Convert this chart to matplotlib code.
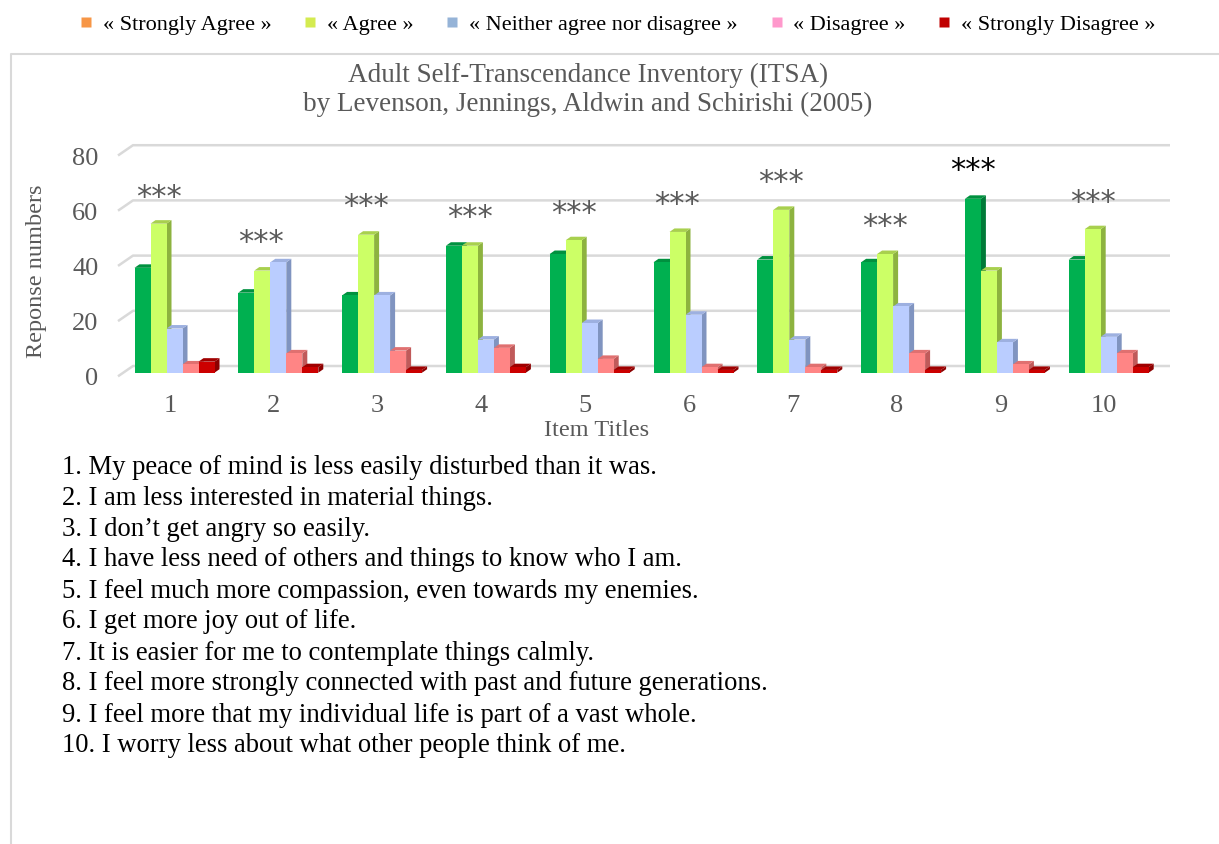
import matplotlib.pyplot as plt
from matplotlib.patches import Polygon
from matplotlib.lines import Line2D

# data (115 respondents per item)
items = ['1', '2', '3', '4', '5', '6', '7', '8', '9', '10']
strongly_agree = [38, 29, 28, 46, 43, 40, 41, 40, 63, 41]
agree = [54, 37, 50, 46, 48, 51, 59, 43, 37, 52]
neither = [16, 40, 28, 12, 18, 21, 12, 24, 11, 13]
disagree = [3, 7, 8, 9, 5, 2, 2, 7, 3, 7]
strongly_disagree = [4, 2, 1, 2, 1, 1, 1, 1, 1, 2]

legend_labels = ['« Strongly Agree »', '« Agree »', '« Neither agree nor disagree »',
                 '« Disagree »', '« Strongly Disagree »']
legend_colors = ['#F79646', '#D4EB50', '#95B3D7', '#FF99CC', '#C00000']

# significance marks: text, height, horizontal shift from the item centre
stars = ['***'] * 10
star_y = [65.6, 49.3, 62.3, 58.3, 59.8, 62.8, 71.0, 55.0, 75.2, 63.7]
star_dx = [-0.11, -0.12, -0.11, -0.11, -0.11, -0.12, -0.11, -0.11, -0.26, -0.11]

statements = [
    '1. My peace of mind is less easily disturbed than it was.',
    '2. I am less interested in material things.',
    '3. I don\u2019t get angry so easily.',
    '4. I have less need of others and things to know who I am.',
    '5. I feel much more compassion, even towards my enemies.',
    '6. I get more joy out of life.',
    '7. It is easier for me to contemplate things calmly.',
    '8. I feel more strongly connected with past and future generations.',
    '9. I feel more that my individual life is part of a vast whole.',
    '10. I worry less about what other people think of me.',
]

series = [strongly_agree, agree, neither, disagree, strongly_disagree]
front_cols = ['#00B050', '#CCFF66', '#BACDFF', '#FF8585', '#CC0000']
side_cols = ['#007A38', '#8DB33F', '#8094C0', '#C05A5A', '#8B0000']
top_cols = ['#00913F', '#A8D04E', '#9DB0E0', '#E07070', '#A00000']

plt.rcParams['font.family'] = ['Liberation Serif', 'DejaVu Serif']
grey = '#595959'

W, H = 1219, 844
fig = plt.figure(figsize=(W / 100, H / 100), dpi=100)


def fx(px):
    return px / W


def fy(py):
    return 1 - py / H


# pixel scale of the plot area
PX_X = 103.8   # px per item
PX_Y = 2.76    # px per response
y0_px = 372.7
left_px, right_px, top_px, bot_px = 118, 1170, 140, 380

ax = fig.add_axes([fx(left_px), fy(bot_px), (right_px - left_px) / W, (bot_px - top_px) / H])
xlo = 1 - (170 - left_px) / PX_X
xhi = 10 + (right_px - 1104.2) / PX_X
ax.set_xlim(xlo, xhi)
ax.set_ylim((y0_px - bot_px) / PX_Y, (y0_px - top_px) / PX_Y)
for s in ax.spines.values():
    s.set_visible(False)

# back wall gridlines with the perspective stub on the left
back_x = 1 - (170 - 133) / PX_X
for v in range(0, 81, 20):
    yb = v + 6.7 / PX_Y
    yf = yb - 10.3 / PX_Y
    ax.plot([xlo, back_x, xhi], [yf, yb, yb], color='#D9D9D9', lw=1.8,
            zorder=0, clip_on=False, solid_capstyle='butt')

# bars with a fake 3d side and top
bw = 16 / PX_X
ddx = 5 / PX_X
ddy = 3.5 / PX_Y
xs = list(range(1, len(items) + 1))
for i, x in enumerate(xs):
    for k, vals in enumerate(series):
        h = vals[i]
        xl = x + (-35.5 + 16 * k) / PX_X
        xr = xl + bw
        z = 2 + k
        ax.add_patch(Polygon([(xr, 0), (xr + ddx, ddy), (xr + ddx, h + ddy), (xr, h)],
                             closed=True, facecolor=side_cols[k], edgecolor='none', zorder=z))
        ax.add_patch(Polygon([(xl, h), (xl + ddx, h + ddy), (xr + ddx, h + ddy), (xr, h)],
                             closed=True, facecolor=top_cols[k], edgecolor='none', zorder=z))
        ax.bar(xl, h, width=bw, align='edge', color=front_cols[k], zorder=z + 0.5)

# asterisk glyph centre sits above the baseline
star_off = 14 / PX_Y
for i, x in enumerate(xs):
    ax.text(x + star_dx[i], star_y[i] - star_off, stars[i], ha='center', va='baseline',
            fontsize=22, family='DejaVu Sans',
            color='black' if i == 8 else grey)

ax.set_xticks(xs)
ax.set_xticklabels(items)
ax.set_yticks([v - 1.5 for v in range(0, 81, 20)])
ax.set_yticklabels([str(v) for v in range(0, 81, 20)])
ax.tick_params(axis='both', length=0, labelsize=19, labelcolor=grey)
ax.tick_params(axis='x', pad=11)
ax.tick_params(axis='y', pad=14)

fig.text(fx(37), fy(271), 'Reponse numbers', rotation=90, ha='center', va='center',
         fontsize=17.5, color=grey)
fig.text(fx(597), fy(430), 'Item Titles', ha='center', va='center', fontsize=17.5, color=grey)
fig.text(fx(588), fy(90), 'Adult Self-Transcendance Inventory (ITSA)\nby Levenson, Jennings, Aldwin and Schirishi (2005)',
         ha='center', va='center', fontsize=19.5, color=grey, linespacing=1.2)

for k, line in enumerate(statements):
    fig.text(fx(62), fy(467 + 31 * k), line, ha='left', va='center', fontsize=19.2, color='black')

# chart border
fig.add_artist(Line2D([fx(11), fx(11), fx(W + 5)], [fy(H + 5), fy(54), fy(54)],
                      color='#D9D9D9', lw=1.5))

handles = [Line2D([], [], marker='s', linestyle='none', markersize=7,
                  markerfacecolor=c, markeredgecolor='none') for c in legend_colors]
fig.legend(handles, legend_labels, loc='center', bbox_to_anchor=(fx(618), fy(25)),
           ncol=5, frameon=False, fontsize=16, handlelength=0.5, handletextpad=0.5,
           columnspacing=1.5)

fig.savefig('out.png', dpi=100)
